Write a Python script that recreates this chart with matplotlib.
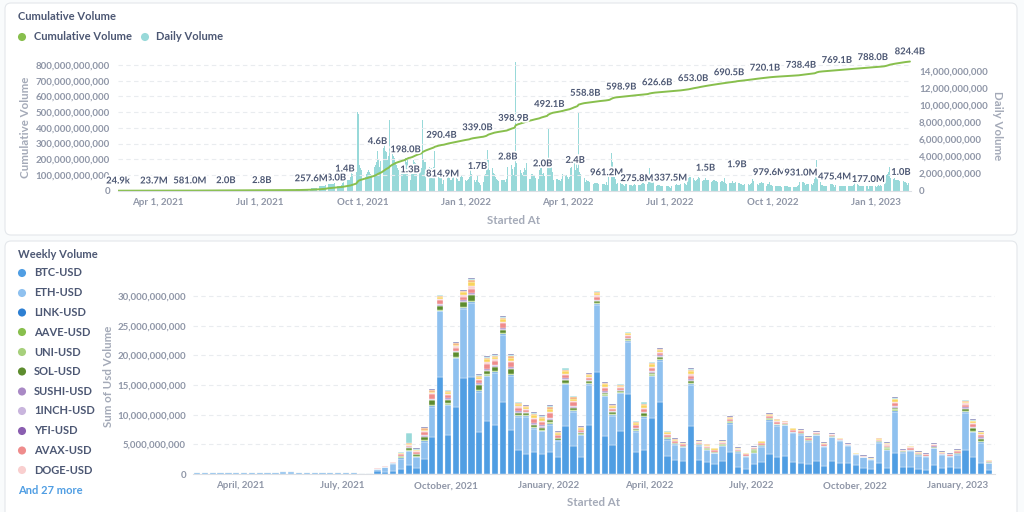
import numpy as np
import pandas as pd
import matplotlib
matplotlib.use("Agg")
import matplotlib.pyplot as plt
import matplotlib.dates as mdates
import matplotlib.patheffects as pe
from matplotlib.patches import FancyBboxPatch

plt.rcParams['font.family'] = ['Lato', 'DejaVu Sans']
plt.rcParams['font.weight'] = 'bold'

# ---------------- top card: daily volume (billions USD), one row per week Sun..Sat ----------------
daily_start = '2021-02-25'
daily_volume = [
    0.0000249, 0.0005, 0.001,                               # Feb 25 2021
    0.001, 0.001, 0.001, 0.001, 0.001, 0.001, 0.001,        # Feb 28
    0.001, 0.001, 0.001, 0.001, 0.001, 0.001, 0.001,        # Mar 7
    0.001, 0.001, 0.002, 0.001, 0.001, 0.001, 0.001,        # Mar 14
    0.001, 0.002, 0.002, 0.001, 0.001, 0.001, 0.002,        # Mar 21
    0.002, 0.004, 0.005, 0.006, 0.008, 0.006, 0.005,        # Mar 28
    0.01, 0.015, 0.02, 0.02, 0.02, 0.015, 0.015,            # Apr 4
    0.015, 0.02, 0.025, 0.02, 0.02, 0.02, 0.02,             # Apr 11
    0.02, 0.025, 0.02, 0.02, 0.025, 0.02, 0.02,             # Apr 18
    0.02, 0.02, 0.025, 0.02, 0.02, 0.02, 0.015,             # Apr 25
    0.03, 0.04, 0.05, 0.05, 0.04, 0.04, 0.03,               # May 2
    0.04, 0.05, 0.06, 0.07, 0.06, 0.05, 0.04,               # May 9
    0.05, 0.06, 0.08, 0.07, 0.05, 0.05, 0.04,               # May 16
    0.05, 0.05, 0.04, 0.04, 0.04, 0.03, 0.03,               # May 23
    0.03, 0.03, 0.03, 0.03, 0.03, 0.02, 0.02,               # May 30
    0.02, 0.03, 0.03, 0.03, 0.02, 0.02, 0.02,               # Jun 6
    0.02, 0.02, 0.03, 0.03, 0.02, 0.02, 0.02,               # Jun 13
    0.02, 0.03, 0.03, 0.02, 0.02, 0.02, 0.02,               # Jun 20
    0.02, 0.02, 0.02, 0.02, 0.02, 0.02, 0.02,               # Jun 27
    0.02, 0.02, 0.02, 0.02, 0.02, 0.02, 0.02,               # Jul 4
    0.02, 0.02, 0.02, 0.03, 0.02, 0.02, 0.02,               # Jul 11
    0.02, 0.03, 0.03, 0.03, 0.03, 0.03, 0.03,               # Jul 18
    0.03, 0.03, 0.03, 0.03, 0.03, 0.03, 0.02,               # Jul 25
    0.1, 0.12, 0.15, 0.15, 0.16, 0.17, 0.15,                # Aug 1
    0.15, 0.2, 0.2, 0.22, 0.22, 0.21, 0.2,                  # Aug 8
    0.22, 0.26, 0.3, 0.3, 0.34, 0.34, 0.34,                 # Aug 15
    0.4, 0.5, 0.5, 0.55, 0.55, 0.6, 0.6,                    # Aug 22
    0.7, 2.2, 0.8, 0.8, 0.8, 0.8, 0.8,                      # Aug 29
    0.8, 0.9, 0.6, 0.5, 0.5, 0.5, 0.5,                      # Sep 5
    0.7, 0.9, 1.2, 1.4, 1.2, 1.3, 1.2,                      # Sep 12
    1.2, 1.6, 2.2, 2.0, 2.4, 2.7, 2.2,                      # Sep 19
    9.2, 8.9, 3.0, 2.6, 2.4, 2.2, 1.9,                      # Sep 26
    1.6, 2.0, 2.2, 2.4, 2.2, 2.0, 1.8,                      # Oct 3
    2.0, 2.8, 3.0, 3.4, 4.6, 3.6, 2.8,                      # Oct 10
    3.5, 4.0, 5.0, 5.8, 4.6, 4.5, 3.6,                      # Oct 17
    4.0, 8.2, 5.0, 4.6, 4.0, 3.8, 3.4,                      # Oct 24
    3.0, 2.6, 2.4, 2.4, 2.2, 2.2, 2.0,                      # Oct 31
    2.4, 3.8, 3.4, 3.6, 3.0, 1.3, 2.4,                      # Nov 7
    2.0, 3.6, 3.4, 3.2, 3.0, 2.8, 2.2,                      # Nov 14
    2.4, 2.6, 8.2, 3.6, 3.4, 3.4, 3.0,                      # Nov 21
    2.4, 2.8, 2.6, 2.6, 2.4, 2.8, 4.6,                      # Nov 28
    2.4, 2.2, 1.9, 1.7, 1.6, 1.6, 0.8,                      # Dec 5
    1.2, 2.0, 2.2, 1.8, 1.6, 1.5, 1.3,                      # Dec 12
    1.3, 1.6, 1.6, 1.8, 1.6, 1.4, 1.1,                      # Dec 19
    1.1, 1.6, 1.8, 1.6, 1.4, 1.3, 1.1,                      # Dec 26
    1.2, 1.4, 1.6, 2.9, 1.9, 1.4, 1.2,                      # Jan 2 2022
    1.0, 1.2, 1.7, 1.0, 0.9, 0.7, 0.7,                      # Jan 9
    1.0, 1.8, 2.0, 2.4, 4.7, 3.6, 2.4,                      # Jan 16
    2.3, 2.6, 2.1, 2.0, 1.6, 1.4, 1.2,                      # Jan 23
    1.1, 1.1, 1.2, 1.2, 1.3, 1.2, 1.0,                      # Jan 30
    1.4, 2.8, 2.6, 2.9, 3.0, 2.5, 1.8,                      # Feb 6
    2.8, 15.0, 3.2, 2.8, 2.6, 2.4, 2.1,                     # Feb 13
    1.8, 2.2, 2.6, 2.4, 3.2, 1.9, 1.4,                      # Feb 20
    1.4, 2.0, 2.0, 1.8, 1.8, 1.5, 1.3,                      # Feb 27
    1.4, 2.4, 2.8, 2.8, 2.0, 2.1, 1.7,                      # Mar 6
    1.8, 2.6, 7.3, 3.8, 3.4, 2.9, 2.2,                      # Mar 13
    1.2, 1.4, 1.4, 1.4, 1.3, 1.2, 1.1,                      # Mar 20
    1.4, 2.0, 2.2, 1.8, 1.8, 1.6, 1.4,                      # Mar 27
    1.6, 2.6, 2.8, 3.0, 3.3, 2.4, 3.2,                      # Apr 3
    2.6, 9.2, 2.2, 2.0, 1.9, 1.8, 1.5,                      # Apr 10
    1.0, 1.2, 1.1, 1.1, 1.0, 1.0, 0.9,                      # Apr 17
    0.8, 0.9, 0.9, 0.9, 0.9, 0.8, 0.8,                      # Apr 24
    0.6, 0.8, 0.8, 0.8, 0.7, 1.0, 0.7,                      # May 1
    1.6, 2.4, 4.4, 3.4, 2.8, 1.8, 1.4,                      # May 8
    0.8, 0.9, 0.8, 0.9, 0.8, 0.8, 0.7,                      # May 15
    0.6, 0.8, 0.8, 0.8, 0.7, 0.7, 0.7,                      # May 22
    0.6, 0.7, 0.8, 0.7, 0.28, 0.7, 0.62,                    # May 29
    0.7, 0.8, 0.9, 0.9, 0.8, 0.8, 0.8,                      # Jun 5
    1.2, 2.6, 1.6, 1.3, 1.1, 1.0, 0.9,                      # Jun 12
    0.6, 0.7, 0.7, 0.7, 0.6, 0.6, 0.6,                      # Jun 19
    0.5, 0.6, 0.6, 0.6, 0.5, 0.46, 0.34,                    # Jun 26
    0.5, 0.6, 0.7, 0.7, 0.8, 0.7, 0.7,                      # Jul 3
    0.7, 0.8, 0.9, 0.8, 0.9, 0.8, 0.7,                      # Jul 10
    1.2, 1.5, 1.6, 1.6, 1.5, 1.5, 1.3,                      # Jul 17
    1.1, 1.2, 1.4, 1.6, 1.5, 1.4, 1.1,                      # Jul 24
    1.2, 1.3, 1.5, 1.3, 1.3, 1.3, 1.1,                      # Jul 31
    1.0, 1.1, 1.2, 1.3, 1.1, 1.1, 1.0,                      # Aug 7
    1.0, 1.0, 1.1, 1.1, 1.0, 1.5, 0.9,                      # Aug 14
    0.8, 0.9, 0.9, 0.9, 0.9, 1.1, 0.9,                      # Aug 21
    0.9, 1.0, 1.9, 0.9, 0.9, 0.8, 0.8,                      # Aug 28
    0.7, 0.7, 0.8, 0.9, 0.8, 0.8, 0.7,                      # Sep 4
    0.8, 0.9, 1.4, 1.1, 1.0, 0.9, 0.8,                      # Sep 11
    0.7, 0.9, 0.9, 1.0, 0.9, 0.9, 0.8,                      # Sep 18
    0.6, 0.8, 0.8, 1.0, 0.7, 0.7, 0.6,                      # Sep 25
    0.5, 0.5, 0.6, 0.5, 0.5, 0.5, 0.5,                      # Oct 2
    0.4, 0.4, 0.5, 0.5, 0.5, 0.5, 0.4,                      # Oct 9
    0.4, 0.4, 0.4, 0.4, 0.4, 0.4, 0.4,                      # Oct 16
    0.5, 0.7, 1.0, 0.93, 1.0, 1.07, 0.9,                    # Oct 23
    0.7, 0.8, 0.8, 0.8, 0.8, 0.8, 0.7,                      # Oct 30
    0.9, 1.4, 2.2, 3.6, 2.2, 1.6, 1.0,                      # Nov 6
    0.7, 0.7, 0.6, 0.6, 0.6, 0.5, 0.5,                      # Nov 13
    0.6, 0.8, 0.8, 0.8, 0.7, 0.48, 0.62,                    # Nov 20
    0.5, 0.6, 0.6, 0.6, 0.5, 0.5, 0.5,                      # Nov 27
    0.5, 0.5, 0.5, 0.5, 0.5, 0.5, 0.5,                      # Dec 4
    0.6, 0.7, 0.9, 0.9, 0.8, 0.7, 0.6,                      # Dec 11
    0.5, 0.6, 0.6, 0.6, 0.5, 0.5, 0.5,                      # Dec 18
    0.18, 0.5, 0.6, 0.6, 0.6, 0.5, 0.52,                    # Dec 25
    0.4, 0.6, 0.7, 0.6, 0.7, 0.6, 0.6,                      # Jan 1 2023
    0.8, 1.4, 1.8, 2.0, 2.2, 2.8, 1.5,                      # Jan 8
    1.2, 1.4, 1.5, 1.3, 1.2, 1.3, 1.3,                      # Jan 15
    1.1, 1.0, 1.1, 1.1, 1.0, 1.0, 0.9,                      # Jan 22
    0.7, 0.9, 0.8,                                          # Jan 29
]

cum_label_dates = ['2021-02-25', '2021-03-29', '2021-04-30', '2021-06-01', '2021-07-03',
                   '2021-09-05', '2021-11-08', '2021-12-10', '2022-01-11', '2022-02-12',
                   '2022-03-16', '2022-04-17', '2022-05-19', '2022-06-20', '2022-07-22',
                   '2022-08-23', '2022-09-24', '2022-10-26', '2022-11-27', '2022-12-29',
                   '2023-01-31']
cum_label_values = [0.0000249, 0.0237, 0.581, 2.0, 2.8, 18.0, 198.0, 290.4, 339.0, 398.9,
                    492.1, 558.8, 598.9, 626.6, 653.0, 690.5, 720.1, 738.4, 769.1, 788.0, 824.4]

daily_label_dates = ['2021-08-16', '2021-09-15', '2021-10-14', '2021-11-12', '2021-12-11',
                     '2022-01-11', '2022-02-07', '2022-03-10', '2022-04-08', '2022-05-06',
                     '2022-06-02', '2022-07-02', '2022-08-02', '2022-08-30', '2022-09-28',
                     '2022-10-26', '2022-11-25', '2022-12-25', '2023-01-23']
daily_label_values = [0.2576, 1.4, 4.6, 1.3, 0.8149, 1.7, 2.8, 2.0, 2.4, 0.9612, 0.2758,
                      0.3375, 1.5, 1.9, 0.9796, 0.931, 0.4754, 0.177, 1.0]

quarter_ticks = ['2021-04-01', '2021-07-01', '2021-10-01', '2022-01-01',
                 '2022-04-01', '2022-07-01', '2022-10-01', '2023-01-01']
top_tick_labels = ['Apr 1, 2021', 'Jul 1, 2021', 'Oct 1, 2021', 'Jan 1, 2022',
                   'Apr 1, 2022', 'Jul 1, 2022', 'Oct 1, 2022', 'Jan 1, 2023']
bottom_tick_labels = ['April, 2021', 'July, 2021', 'October, 2021', 'January, 2022',
                      'April, 2022', 'July, 2022', 'October, 2022', 'January, 2023']

# ---------------- bottom card: weekly volume per pair (billions USD) ----------------
week_first = '2021-02-21'
btc_volume = [
    0.15, 0.15, 0.15, 0.15, 0.15, 0.15, 0.15, 0.15, 0.15, 0.15,
    0.15, 0.25, 0.25, 0.15, 0.15, 0.15, 0.15, 0.15, 0.15, 0.15,
    0.15, 0.1, 0.1, 0.45, 0.4, 0.5, 0.8, 1.5, 1.0, 2.6,
    6.3, 16.4, 6.6, 11.3, 16.1, 16.3, 7.1, 8.9, 8.3, 12.2,
    7.4, 4.0, 3.4, 3.7, 3.3, 3.7, 2.8, 8.1, 4.8, 2.9,
    8.3, 17.2, 6.4, 4.9, 7.2, 13.4, 3.7, 4.0, 9.4, 12.1,
    3.0, 2.4, 2.2, 8.1, 2.4, 2.0, 1.7, 2.2, 3.7, 1.2,
    0.9, 1.7, 2.0, 3.4, 2.9, 3.0, 2.1, 1.9, 1.7, 2.2,
    1.3, 2.2, 1.9, 1.9, 1.5, 1.0, 0.8, 1.9, 1.0, 3.6,
    1.2, 1.2, 0.8, 0.7, 1.5, 1.0, 1.2, 1.0, 4.0, 2.8,
    1.9, 0.6,
]
eth_volume = [
    0.12, 0.12, 0.12, 0.12, 0.12, 0.12, 0.12, 0.12, 0.12, 0.12,
    0.12, 0.25, 0.25, 0.12, 0.12, 0.12, 0.12, 0.12, 0.12, 0.12,
    0.12, 0.1, 0.1, 0.4, 0.7, 1.2, 1.8, 2.3, 1.8, 2.8,
    5.0, 11.0, 5.0, 8.2, 11.7, 12.6, 6.8, 7.6, 8.8, 11.3,
    9.2, 5.6, 6.2, 3.9, 3.9, 4.6, 2.8, 7.0, 5.7, 3.6,
    6.7, 11.3, 6.7, 4.9, 6.4, 8.9, 3.4, 5.4, 7.1, 7.0,
    2.8, 2.5, 2.3, 6.9, 2.4, 2.0, 1.8, 2.5, 4.8, 2.4,
    2.0, 1.8, 2.6, 5.6, 5.2, 5.2, 4.8, 4.7, 3.7, 4.3,
    3.3, 4.0, 3.7, 2.9, 1.7, 1.8, 1.6, 3.4, 3.0, 6.9,
    2.4, 2.7, 2.3, 2.2, 2.8, 2.2, 1.7, 2.2, 6.2, 4.2,
    3.4, 1.2,
]
# smaller pairs: tenths of a billion, one base-36 digit per week, groups of ten weeks
link_volume  = "0000000000 0000000000 0000011111 1111111111 1111121111 1111111211 1111111111 1111111111 1111111112 1111111121 11"
aave_volume  = "0000000000 0000000000 0000001112 2111111111 1111111111 1111111111 1101010110 0111100110 0000000011 0000000111 10"
uni_volume   = "0000000000 0000000000 0000000101 1111111111 1111110110 1111011111 0001000010 0401100000 0000000021 0000000011 10"
sol_volume   = "0000000000 0000000000 0000112335 7767998675 8434342442 3333222433 2114111111 1111111111 1100000113 1111111144 31"
sushi_volume = "0000000000 0000000000 0000001111 1111121111 1111221111 1111111111 1001000000 0000000000 0000000001 0000000011 10"
inch_volume  = "0000000000 0000000000 0000000001 1111111111 1111110110 1111001111 0001000000 0000000000 0000000001 0000000011 10"
yfi_volume   = "0000000000 0000000000 0000000000 1111111111 1101110110 0110000111 0001000000 0000000000 0000000001 0000200011 10"
avax_volume  = "0000000000 0000000000 0001112335 7655665878 8646674664 4554444554 3336333333 2233323332 2221111225 2322222344 32"
doge_volume  = "0000000000 0000000000 0000001112 2222362323 3223231221 2222111222 1112111111 1111111111 1100000142 0110100122 20"
# four of the "27 more" pairs that show as bands on top
more_a_volume = "0000000000 0000000000 0001111223 3333474544 5434453543 3443333443 3225222222 1122212221 1111111124 1211111233 31"
more_b_volume = "0000000000 0000000000 0000001112 2222232322 3212231221 1221112221 1102010010 0001110000 1000000101 0000000011 10"
more_c_volume = "0000000000 0000000000 0000001h11 1111121222 2112221221 1111111311 1002000000 0000000000 0000000001 0000000011 00"
more_d_volume = "0000000000 0000000000 0000000011 1111111111 1111111111 1111111111 1111111111 1111111111 1111111111 1111111111 11"

pairs = ['BTC-USD', 'ETH-USD', 'LINK-USD', 'AAVE-USD', 'UNI-USD', 'SOL-USD',
         'SUSHI-USD', '1INCH-USD', 'YFI-USD', 'AVAX-USD', 'DOGE-USD']
pair_colors = ['#509EE3', '#8FC1EF', '#2D7FD2', '#88BF4D', '#A7D07C', '#5D8C2E',
               '#A989C5', '#C9B5DD', '#8A5EB0', '#EF8C8C', '#F9CFCF']
more_colors = ['#F9D45C', '#F2A86F', '#98D9D9', '#7172AD']


def tenths(s):
    return [int(c, 36) / 10 for c in s.replace(' ', '')]


def short(v):
    if v >= 1:
        return f'{v:.1f}B'
    if v >= 0.001:
        return f'{v * 1000:.1f}M'
    return f'{v * 1e6:.1f}k'


INK = '#4C5773'
TICK = '#8F96A7'
AXT = '#A4AAB8'
GRID = '#E9ECEF'
W, H = 1024, 512


def rect(l, t, r, b):
    return [l / W, 1 - b / H, (r - l) / W, (b - t) / H]


fig = plt.figure(figsize=(10.24, 5.12), dpi=100, facecolor='#F9FBFC')
bg = fig.add_axes([0, 0, 1, 1], zorder=-10)
bg.set_xlim(0, W)
bg.set_ylim(H, 0)
bg.axis('off')
for y0, y1 in [(3, 235), (241, 522)]:
    bg.add_patch(FancyBboxPatch((5, y0), 1012, y1 - y0,
                                boxstyle='round,pad=0,rounding_size=6',
                                facecolor='white', edgecolor='#E4E7EB', lw=0.8))

# ---- top chart ----
bg.text(18, 17, 'Cumulative Volume', fontsize=8, color=INK, va='center')
bg.scatter([22, 145], [37, 37], s=34, color=['#88BF4D', '#98D9D9'], linewidths=0)
bg.text(34, 37, 'Cumulative Volume', fontsize=8, color=INK, va='center')
bg.text(156, 37, 'Daily Volume', fontsize=8, color=INK, va='center')

days = pd.date_range(daily_start, periods=len(daily_volume), freq='D')
daily = np.array(daily_volume)
cum = np.cumsum(daily)

ax = fig.add_axes(rect(117.5, 54, 910.5, 190.7))
ax2 = ax.twinx()
ax2.bar(days, daily, width=0.75, color='#98D9D9', linewidth=0)
ax.plot(days, cum, color='#88BF4D', lw=1.4, solid_capstyle='round')
ax.set_zorder(ax2.get_zorder() + 1)
ax.patch.set_visible(False)
ax.set_xlim(days[0] - pd.Timedelta(hours=12), days[-1] + pd.Timedelta(hours=12))
ax.set_ylim(0, 870)
ax2.set_ylim(0, 15.95)

lt = np.arange(0, 801, 100)
ax.set_yticks(lt)
ax.set_yticklabels([f'{int(v * 1e9):,}' for v in lt])
rt = np.arange(0, 15, 2)
ax2.set_yticks(rt)
ax2.set_yticklabels([f'{int(v * 1e9):,}' for v in rt])
ax.set_xticks(pd.to_datetime(quarter_ticks))
ax.set_xticklabels(top_tick_labels)
ax.grid(axis='y', color=GRID, ls=(0, (4, 3)), lw=0.8)
ax.tick_params(axis='y', length=0, labelsize=7, labelcolor=TICK, pad=5.4)
ax.tick_params(axis='x', length=0, labelsize=7, labelcolor=TICK, pad=4.9)
ax2.tick_params(axis='y', length=0, labelsize=7, labelcolor=TICK, pad=6.1)
for a in (ax, ax2):
    for s in a.spines.values():
        s.set_visible(False)
ax.spines['bottom'].set_visible(True)
ax.spines['bottom'].set_color('#DCDFE4')

halo = [pe.withStroke(linewidth=2.6, foreground='white')]
for d, v in zip(cum_label_dates, cum_label_values):
    i = min((pd.Timestamp(d) - days[0]).days, len(days) - 1)
    ax.annotate(short(v), (days[i], cum[i]), xytext=(0, 7), textcoords='offset points',
                ha='center', va='center', fontsize=6.8, color=INK, path_effects=halo,
                annotation_clip=False, zorder=6)
for d, v in zip(daily_label_dates, daily_label_values):
    ax.annotate(short(v), (mdates.date2num(pd.Timestamp(d)), v), xycoords=ax2.transData,
                xytext=(0, 7), textcoords='offset points', ha='center', va='center',
                fontsize=6.8, color=INK, path_effects=halo, annotation_clip=False, zorder=7)

bg.text(26, 127, 'Cumulative Volume', rotation=90, ha='center', va='center', fontsize=8.3, color=AXT)
bg.text(997, 126, 'Daily Volume', rotation=270, ha='center', va='center', fontsize=8.3, color=AXT)
bg.text(514, 220, 'Started At', ha='center', va='center', fontsize=8.3, color=AXT)

# ---- bottom chart ----
bg.text(18, 254, 'Weekly Volume', fontsize=8, color=INK, va='center')
legend_y = [273, 293, 312.5, 332, 352, 371.5, 391.5, 411, 431, 450.5, 470]
bg.scatter([22] * len(pairs), legend_y, s=34, color=pair_colors, linewidths=0)
for name, y in zip(pairs, legend_y):
    bg.text(34, y, name, fontsize=8, color=INK, va='center')
bg.text(18, 490, 'And 27 more', fontsize=8, color='#509EE3', va='center')

weeks = pd.date_range(week_first, periods=len(btc_volume), freq='7D')
series = [btc_volume, eth_volume] + [tenths(s) for s in
          (link_volume, aave_volume, uni_volume, sol_volume, sushi_volume, inch_volume,
           yfi_volume, avax_volume, doge_volume, more_a_volume, more_b_volume,
           more_c_volume, more_d_volume)]
colors = pair_colors + more_colors

ax3 = fig.add_axes(rect(193, 277, 995, 474))
base = np.zeros(len(weeks))
for vals, c in zip(series, colors):
    vals = np.array(vals)
    ax3.bar(weeks, vals, width=5.6, bottom=base, color=c, edgecolor='white', linewidth=0.25)
    base += vals
ax3.set_xlim(weeks[0] - pd.Timedelta(days=3.6), weeks[-1] + pd.Timedelta(days=5.4))
ax3.set_ylim(0, 197 / 5.933)
bt = np.arange(0, 31, 5)
ax3.set_yticks(bt)
ax3.set_yticklabels([f'{int(v * 1e9):,}' for v in bt])
ax3.set_xticks(pd.to_datetime(quarter_ticks))
ax3.set_xticklabels(bottom_tick_labels)
ax3.grid(axis='y', color=GRID, ls=(0, (4, 3)), lw=0.8)
ax3.set_axisbelow(True)
ax3.tick_params(axis='y', length=0, labelsize=7, labelcolor=TICK, pad=5)
ax3.tick_params(axis='x', length=0, labelsize=7, labelcolor=TICK, pad=5.4)
for s in ax3.spines.values():
    s.set_visible(False)
ax3.spines['bottom'].set_visible(True)
ax3.spines['bottom'].set_color('#DCDFE4')
ax3.patch.set_visible(False)

bg.text(108, 376, 'Sum of Usd Volume', rotation=90, ha='center', va='center', fontsize=8.3, color=AXT)
bg.text(594, 503, 'Started At', ha='center', va='center', fontsize=8.3, color=AXT)

fig.savefig('out.png', dpi=100, facecolor=fig.get_facecolor())
